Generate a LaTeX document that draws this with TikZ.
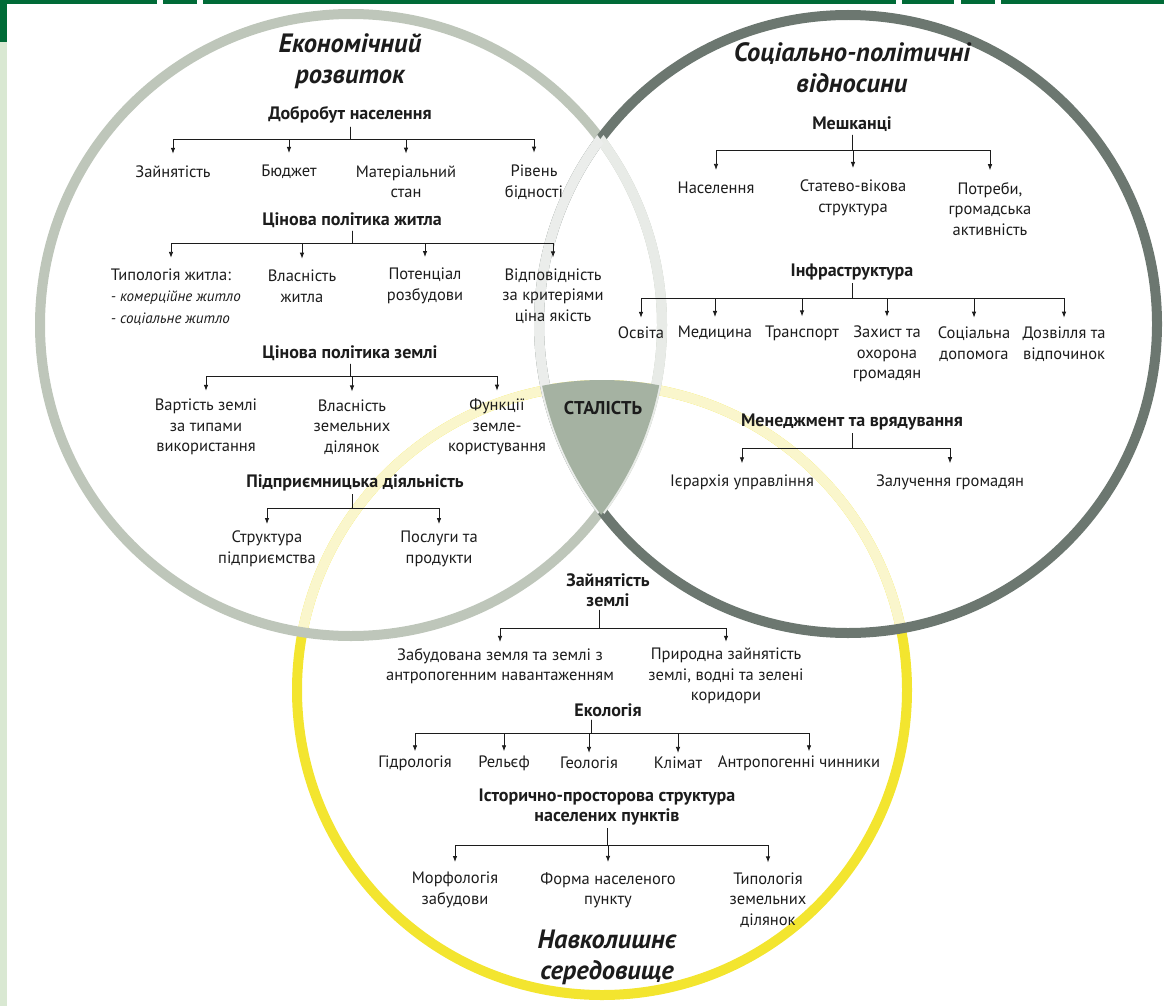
\documentclass[tikz,border=0pt]{standalone}
\usepackage{fontspec}
\setmainfont{PT Sans}
\usetikzlibrary{arrows.meta,positioning}

\definecolor{ink}{HTML}{1C1C1C}
\definecolor{frame}{HTML}{006B37}
\definecolor{strip}{HTML}{D9E8D2}
\definecolor{ecoring}{HTML}{BEC6BA}
\definecolor{ecopale}{HTML}{E8EBE7}
\definecolor{socring}{HTML}{6C7770}
\definecolor{socpale}{HTML}{EBEDEB}
\definecolor{envring}{HTML}{F3E52F}
\definecolor{envpale}{HTML}{FAF6CC}
\definecolor{stalfill}{HTML}{A5B2A2}

\tikzset{
  ring/.style={line width=10pt},
  head/.style={font=\bfseries\fontsize{18}{20}\selectfont, inner sep=0pt, text=ink, align=center},
  item/.style={font=\fontsize{16.5}{20.5}\selectfont, inner sep=0pt, text=ink, align=center},
  sublist/.style={font=\itshape\fontsize{15}{22}\selectfont, inner sep=0pt, text=ink, align=left},
  title/.style={font=\bfseries\itshape\fontsize{26.5}{31}\selectfont, inner sep=0pt, text=ink, align=center},
  link/.style={draw=ink, line width=0.8pt, -{Latex[length=6pt,width=4.5pt]}, shorten <=3pt},
}

\begin{document}
\begin{tikzpicture}[x=1pt, y=-1pt]
\useasboundingbox (0,0) rectangle (1164,1006);

% page frame
\fill[strip] (0,42) rectangle (7,1006);
\fill[frame] (0,0) rectangle (7,42);
\foreach \a/\b in {0/157,163/197,203/896,902/954,961/995,1001/1164}
  \fill[frame] (\a,0) rectangle (\b,4);

% the three circles
\coordinate (c1) at (351,325);
\coordinate (c2) at (848,324);
\coordinate (c3) at (602,690);

\draw[ring, envring] (c3) circle[radius=305pt];
\begin{scope}
  \clip (c1) circle[radius=311pt] (c2) circle[radius=309pt];
  \draw[ring, envpale] (c3) circle[radius=305pt];
\end{scope}
\draw[ring, ecoring] (c1) circle[radius=311pt];
\draw[ring, socring] (c2) circle[radius=309pt];
\begin{scope}
  \clip (c2) circle[radius=309pt];
  \draw[ring, ecopale] (c1) circle[radius=311pt];
\end{scope}
\begin{scope}
  \clip (c1) circle[radius=311pt];
  \draw[ring, socpale] (c2) circle[radius=309pt];
\end{scope}
\begin{scope}
  \clip (c1) circle[radius=314pt];
  \clip (c2) circle[radius=312pt];
  \fill[stalfill] (c3) circle[radius=310pt];
\end{scope}
\node[head, font=\bfseries\fontsize{18.5}{20}\selectfont] (stal) at (603,408) {СТАЛІСТЬ};

% economic development
\node[title] (ecot) at (350,61) {Економічний\\розвиток};
\node[head] (dob) at (350,115) {Добробут населення};
\node[item] (zay) at (173,172) {Зайнятість};
\node[item] (bud) at (289,172) {Бюджет};
\node[item] (mat) at (406,182) {Матеріальний\\стан};
\node[item] (riv) at (534,182) {Рівень\\бідності};
\foreach \c in {zay,bud,mat,riv} \draw[link] (dob.south) -- ++(0,16) -| ([yshift=12pt]\c.north);

\node[head] (cin) at (352,220) {Цінова політика житла};
\node[item] (typ) at (171,275) {Типологія житла:};
\node[sublist, anchor=north west] (typl) at ([yshift=-10pt]typ.south west) {- комерційне житло\\- соціальне житло};
\node[item] (vla) at (302,286) {Власність\\житла};
\node[item] (pot) at (425,286) {Потенціал\\розбудови};
\node[item] (vid) at (553,296) {Відповідність\\за критеріями\\ціна якість};
\foreach \c in {typ,vla,pot,vid} \draw[link] (cin.south) -- ++(0,16) -| ([yshift=11pt]\c.north);

\node[head] (zem) at (350,353) {Цінова політика землі};
\node[item] (var) at (206,427) {Вартість землі\\за типами\\використання};
\node[item] (vlz) at (352,427) {Власність\\земельних\\ділянок};
\node[item] (fun) at (497,427) {Функції\\земле-\\користування};
\foreach \c in {var,vlz,fun} \draw[link] (zem.south) -- ++(0,16) -| ([yshift=8pt]\c.north);

\node[head] (pid) at (355,483) {Підприємницька діяльність};
\node[item] (str) at (267,549) {Структура\\підприємства};
\node[item] (pos) at (439,549) {Послуги та\\продукти};
\foreach \c in {str,pos} \draw[link] ([xshift=-3pt]pid.south) -- ++(0,17) -| ([yshift=7pt]\c.north);

% socio-political relations
\node[title] (soct) at (852,68) {Соціально-політичні\\відносини};
\node[head] (mes) at (852,124) {Мешканці};
\node[item] (nas) at (716,188) {Населення};
\node[item] (sta) at (853,198) {Статево-вікова\\структура};
\node[item] (ptr) at (990,209) {Потреби,\\громадська\\активність};
\foreach \c in {nas,sta,ptr} \draw[link] (mes.south) -- ++(0,19) -| ([yshift=12pt]\c.north);

\node[head] (inf) at (852,272) {Інфраструктура};
\node[item] (osv) at (641,333) {Освіта};
\node[item] (med) at (715,333) {Медицина};
\node[item] (tra) at (802,333) {Транспорт};
\node[item] (zah) at (887,354) {Захист та\\охорона\\громадян};
\node[item] (sdo) at (974,344) {Соціальна\\допомога};
\node[item] (doz) at (1064,344) {Дозвілля та\\відпочинок};
\foreach \c in {osv,med,tra,zah,sdo,doz} \draw[link] (inf.south) -- ++(0,18) -| ([yshift=9pt]\c.north);

\node[head] (men) at (852,422) {Менеджмент та врядування};
\node[item] (ier) at (742,482) {Ієрархія управління};
\node[item] (zal) at (950,482) {Залучення громадян};
\foreach \c in {ier,zal} \draw[link] (men.south) -- ++(0,18) -| ([yshift=11pt]\c.north);

% environment
\node[head] (zz) at (608,590) {Зайнятість\\землі};
\node[item] (zab) at (500,666) {Забудована земля та землі з\\антропогенним навантаженням};
\node[item] (pri) at (726,676) {Природна зайнятість\\землі, водні та зелені\\коридори};
\foreach \c in {zab,pri} \draw[link] ([xshift=-9pt]zz.south) -- ++(0,22) -| ([yshift=6pt]\c.north);

\node[head] (eko) at (608,710) {Екологія};
\node[item] (gid) at (415,763) {Гідрологія};
\node[item] (rel) at (504,763) {Рельєф};
\node[item] (geo) at (589,763) {Геологія};
\node[item] (kli) at (678,763) {Клімат};
\node[item] (ant) at (799,763) {Антропогенні чинники};
\foreach \c in {gid,rel,geo,kli} \draw[link] ([xshift=-17pt]eko.south) -- ++(0,17) -| ([yshift=4pt]\c.north);
\draw[link] ([xshift=-17pt]eko.south) -- ++(0,17) -| ([xshift=10pt,yshift=4pt]ant.north);

\node[head] (ist) at (607,807) {Історично-просторова структура\\населених пунктів};
\node[item] (mor) at (455,890) {Морфологія\\забудови};
\node[item] (frm) at (608,890) {Форма населеного\\пункту};
\node[item] (tip) at (768,900) {Типологія\\земельних\\ділянок};
\foreach \c in {mor,frm,tip} \draw[link] (ist.south) -- ++(0,20) -| ([yshift=10pt]\c.north);

\node[title] (envt) at (607,957) {Навколишнє\\середовище};
\end{tikzpicture}
\end{document}
